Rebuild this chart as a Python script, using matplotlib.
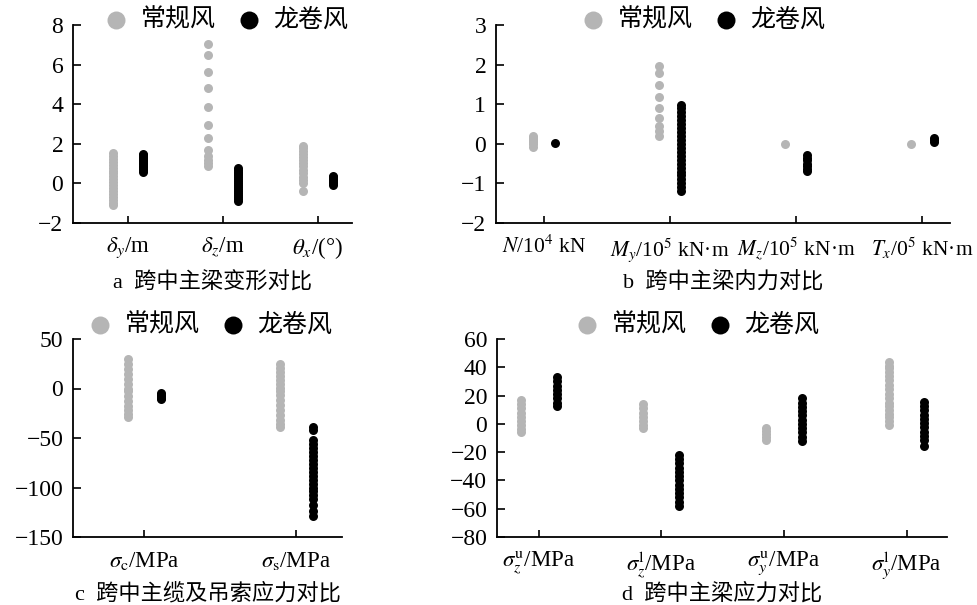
import matplotlib
matplotlib.use('Agg')
import matplotlib.pyplot as plt

plt.rcParams['font.family'] = ['Liberation Serif', 'Noto Sans CJK SC']
plt.rcParams['mathtext.fontset'] = 'stix'
plt.rcParams['axes.unicode_minus'] = True

GRAY = '#b5b5b5'
BLACK = '#000000'

# --- data ---
a_cats = [r'$\delta_y$/m', r'$\delta_z$/m', r'$\theta_x$/(°)']
a_normal = [
    [1.55, 1.4, 1.25, 1.1, 0.95, 0.8, 0.65, 0.5, 0.35, 0.2, 0.05, -0.1, -0.25, -0.4, -0.55, -0.7, -0.85, -1.0, -1.1],
    [7.05, 6.5, 5.65, 4.8, 3.85, 2.95, 2.3, 1.7, 1.4, 1.2, 1.05, 0.88],
    [1.9, 1.8, 1.65, 1.5, 1.35, 1.2, 1.05, 0.9, 0.7, 0.5, 0.3, 0.15, 0.0, -0.38],
]
a_tornado = [
    [1.5, 1.42, 1.35, 1.28, 1.2, 1.12, 1.05, 0.98, 0.9, 0.82, 0.75, 0.68, 0.6],
    [0.78, 0.7, 0.6, 0.5, 0.4, 0.3, 0.2, 0.1, 0.0, -0.1, -0.2, -0.3, -0.4, -0.5, -0.6, -0.7, -0.8, -0.9],
    [0.38, 0.3, 0.22, 0.15, 0.08, 0.0, -0.1],
]

b_cats = [r'$N$/10$^4$ kN', r'$M_y$/10$^5$ kN·m', r'$M_z$/10$^5$ kN·m', r'$T_x$/0$^5$ kN·m']
b_normal = [
    [0.2, 0.15, 0.1, 0.05, 0.0, -0.07],
    [1.97, 1.78, 1.48, 1.19, 0.91, 0.64, 0.45, 0.32, 0.2],
    [0.0],
    [0.0],
]
b_tornado = [
    [0.03],
    [0.98, 0.9, 0.8, 0.7, 0.6, 0.5, 0.4, 0.3, 0.2, 0.1, 0.0, -0.1, -0.2, -0.3, -0.4, -0.5, -0.6, -0.7, -0.8, -0.9, -1.0, -1.1, -1.2],
    [-0.28, -0.35, -0.42, -0.5, -0.57, -0.63, -0.68],
    [0.15, 0.1, 0.05],
]

c_cats = [r'$\sigma_{\rm c}$/MPa', r'$\sigma_{\rm s}$/MPa']
c_normal = [
    [30, 25, 20, 15, 10, 5, 0, -3, -8, -13, -18, -22, -26, -29],
    [25, 21, 17, 13, 9, 5, 1, -3, -7, -12, -17, -22, -27, -32, -36, -39],
]
c_tornado = [
    [-5, -6.5, -8, -9.5, -10.5],
    [-39, -42, -52, -56, -60, -64, -68, -72, -76, -80, -84, -88, -92, -96, -100, -104, -108, -112, -118, -124, -129],
]

d_cats = [r'$\sigma_z^{\rm u}$/MPa', r'$\sigma_z^{\rm l}$/MPa', r'$\sigma_y^{\rm u}$/MPa', r'$\sigma_y^{\rm l}$/MPa']
d_normal = [
    [17, 14, 11, 8, 5, 2, -1, -3.5, -5.5],
    [14, 11, 8, 5, 2, -1, -3],
    [-3, -5, -7, -9, -11.4],
    [43.4, 41, 39.4, 36.5, 34, 31, 27.6, 24.5, 21.2, 18, 15.1, 12.5, 9.9, 7, 4.7, 2, -0.8],
]
d_tornado = [
    [32.8, 30, 27, 24, 21, 18, 15, 12.5],
    [-22, -25, -28, -31, -34, -37, -40, -43, -46, -49, -52, -55, -58],
    [18, 15, 12, 9, 6, 3, 0, -3, -6, -9, -12.4],
    [15.5, 12.5, 9.5, 6.5, 3.5, 0.5, -2.5, -5.5, -8.5, -11.5, -15.5],
]

W, H = 977, 605
fig = plt.figure(figsize=(W / 100, H / 100), dpi=100, facecolor='white')


def make_panel(px_left, px_right, px_top, px_bottom, cats, normal, tornado,
               ylim, yticks, xlim, offset, title, title_y, leg_x, leg_y, xfs=16.5):
    ax = fig.add_axes([px_left / W, 1 - px_bottom / H,
                       (px_right - px_left) / W, (px_bottom - px_top) / H])
    for i in range(len(cats)):
        ax.scatter([i - offset] * len(normal[i]), normal[i], s=42, color=GRAY,
                   linewidths=0, zorder=3, label='常规风' if i == 0 else None)
        ax.scatter([i + offset] * len(tornado[i]), tornado[i], s=42, color=BLACK,
                   linewidths=0, zorder=3, label='龙卷风' if i == 0 else None)
    ax.set_xlim(*xlim)
    ax.set_ylim(*ylim)
    ax.set_yticks(yticks)
    ax.set_xticks(range(len(cats)))
    ax.set_xticklabels(cats, fontsize=xfs)
    ax.tick_params(axis='y', direction='in', length=6, width=1.2, pad=7, labelsize=17)
    ax.tick_params(axis='x', direction='in', length=5, width=1.2, pad=9)
    for s in ['top', 'right']:
        ax.spines[s].set_visible(False)
    for s in ['left', 'bottom']:
        ax.spines[s].set_linewidth(1.3)
    ax.text(0.5, title_y, title, transform=ax.transAxes, ha='center', va='center',
            fontsize=16)
    ax.legend(loc='center', bbox_to_anchor=(leg_x / W, 1 - leg_y / H),
              bbox_transform=fig.transFigure, ncol=2, frameon=False,
              markerscale=2.0, fontsize=18, handlelength=1.0, handletextpad=0.5,
              columnspacing=0.8, borderaxespad=0)
    return ax


make_panel(73, 352, 25, 223, a_cats, a_normal, a_tornado, (-2, 8), range(-2, 9, 2),
           (-0.58, 2.36), 0.16, 'a  跨中主梁变形对比', (223 - 283) / 198, 226, 20)
make_panel(496, 950, 25, 223, b_cats, b_normal, b_tornado, (-2, 3), range(-2, 4),
           (-0.38, 3.22), 0.09, 'b  跨中主梁内力对比', (223 - 283) / 198, 703, 20, xfs=15.5)
make_panel(73, 342, 339, 537, c_cats, c_normal, c_tornado, (-150, 50), range(-150, 51, 50),
           (-0.47, 1.30), 0.11, 'c  跨中主缆及吊索应力对比', (537 - 594) / 198, 210, 325)
make_panel(497, 947, 339, 537, d_cats, d_normal, d_tornado, (-80, 60), range(-80, 61, 20),
           (-0.34, 3.33), 0.146, 'd  跨中主梁应力对比', (537 - 594) / 198, 697, 325)

fig.savefig('out.png', dpi=100, facecolor='white')
